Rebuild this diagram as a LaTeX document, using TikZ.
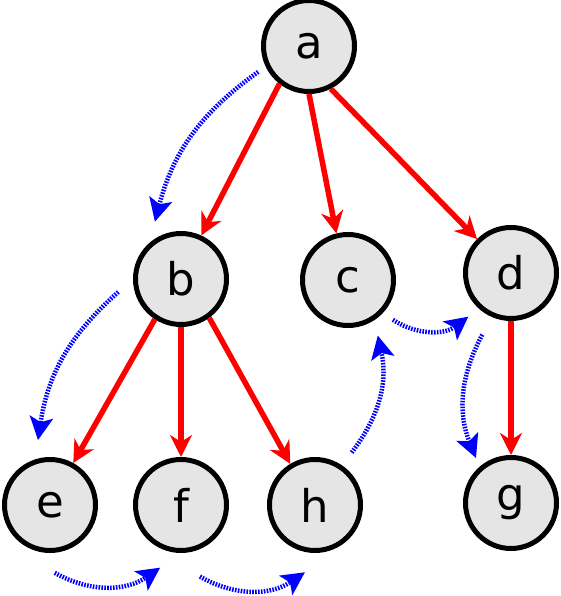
\documentclass[tikz,border=0pt]{standalone}
\usepackage{fontspec}
\setmainfont{DejaVu Sans}
\usetikzlibrary{arrows.meta}

\begin{document}
\begin{tikzpicture}[
    x=1pt, y=1pt,
    vertex/.style={circle, draw=black, line width=5pt, fill=black!10, minimum size=91pt, inner sep=0pt, font=\fontsize{45}{50}\selectfont},
    treeline/.style={-{Stealth[length=22pt,width=22pt,inset=7pt]}, draw=red, line width=5.5pt},
    visit/.style={-{Stealth[length=23pt,width=23pt,inset=5pt]}, draw=blue, line width=4.5pt, dash pattern=on 1.6pt off 1.3pt}
]
    \useasboundingbox (0,0) rectangle (561,-596);
    % tree nodes
    \node[vertex] (a) at (309,-46) {a};
    \node[vertex] (b) at (181,-279) {b};
    \node[vertex] (c) at (348,-280) {c};
    \node[vertex] (d) at (511,-273) {d};
    \node[vertex] (e) at (50,-505) {e};
    \node[vertex] (f) at (181,-505) {f};
    \node[vertex] (h) at (315,-505) {h};
    \node[vertex] (g) at (511,-503) {g};

    % tree edges
    \draw[treeline] (a.232) -- (b.65);
    \draw[treeline] (a.270) -- (c.104);
    \draw[treeline] (a.297) -- (d.135);
    \draw[treeline] (b.237) -- (e.61);
    \draw[treeline] (b.270) -- (f.90);
    \draw[treeline] (b.306) -- (h.121);
    \draw[treeline] (d.270) -- (g.90);

    % traversal order
    \draw[visit] ([shift={(207:57pt)}]a.center) to[bend right=20] ([shift={(114.5:63pt)}]b.center);
    \draw[visit] ([shift={(191.7:64pt)}]b.center) to[bend right=20] ([shift={(100.5:66pt)}]e.center);
    \draw[visit] ([shift={(274:68pt)}]e.center) to[bend right=32] ([shift={(251.6:66pt)}]f.center);
    \draw[visit] ([shift={(284.8:74pt)}]f.center) to[bend right=32] ([shift={(261.5:68pt)}]h.center);
    \draw[visit] ([shift={(55.1:64pt)}]h.center) to[bend right=25] ([shift={(298.2:63pt)}]c.center);
    \draw[visit] ([shift={(318.4:60pt)}]c.center) to[bend right=35] ([shift={(225.7:61pt)}]d.center);
    \draw[visit] ([shift={(245:68pt)}]d.center) to[bend right=25] ([shift={(127.9:57pt)}]g.center);
\end{tikzpicture}
\end{document}
